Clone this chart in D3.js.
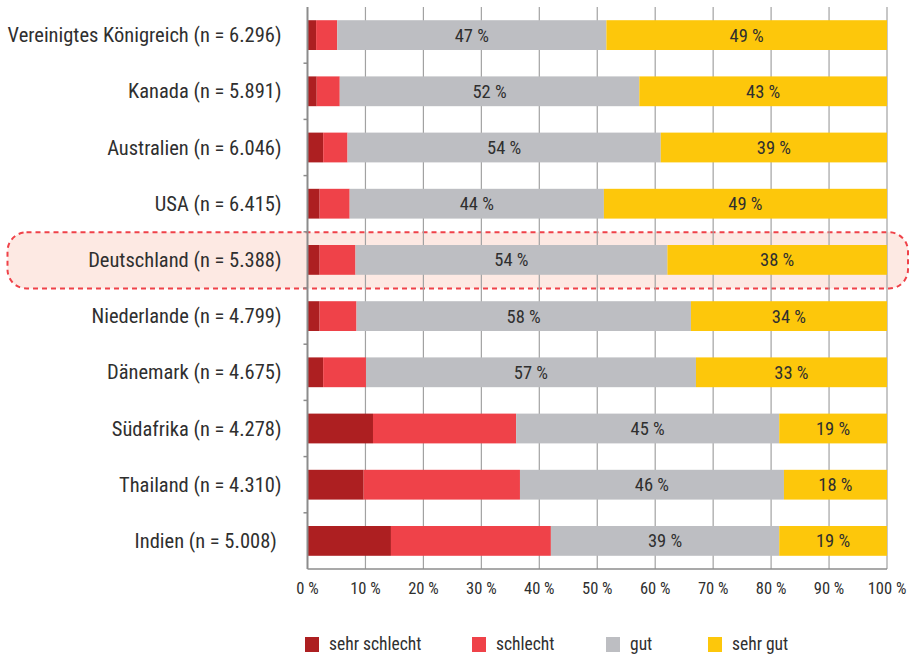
<!DOCTYPE html>
<html>
<head>
<meta charset="utf-8">
<script src="https://cdn.jsdelivr.net/npm/d3@7"></script>
<style>
  body { margin: 0; background: #fff; }
  text { font-family: "Roboto Condensed", "Liberation Sans Narrow", "DejaVu Sans Condensed", sans-serif; fill: #2f2f2f; }
</style>
</head>
<body>
<div id="chart"></div>
<script>
var svgWidth = 917;
var svgHeight = 655;

// categories (top to bottom)
var countries = [
    "Vereinigtes Königreich (n = 6.296)",
    "Kanada (n = 5.891)",
    "Australien (n = 6.046)",
    "USA (n = 6.415)",
    "Deutschland (n = 5.388)",
    "Niederlande (n = 4.799)",
    "Dänemark (n = 4.675)",
    "Südafrika (n = 4.278)",
    "Thailand (n = 4.310)",
    "Indien (n = 5.008)\u00a0"
];
var highlighted = "Deutschland (n = 5.388)";

// series values (%)
var sehrSchlecht = [1.5, 1.6, 2.7, 2.1, 2.1, 2.1, 2.7, 11.3, 9.7, 14.4];
var schlecht = [3.7, 4.0, 4.2, 5.2, 6.2, 6.4, 7.4, 24.7, 27.0, 27.6];
var gut = [47, 52, 54, 44, 54, 58, 57, 45.4, 45.6, 39.4];
var sehrGut = [49, 43, 39, 49, 38, 34, 33, 18.6, 17.8, 18.6];

var seriesNames = ["sehr schlecht", "schlecht", "gut", "sehr gut"];
var seriesColors = ["#ad1f21", "#ef4249", "#bdbec2", "#fdc70b"];
var labelledSeries = ["gut", "sehr gut"];

var xTicks = [0, 10, 20, 30, 40, 50, 60, 70, 80, 90, 100];

var margin = { top: 7, left: 307.5, right: 30, bottom: 86 };

var svg = d3.select("#chart")
    .append("svg")
    .attr("width", svgWidth)
    .attr("height", svgHeight);

// build rows for the stack
var rows = countries.map(function (c, i) {
    return {
        country: c,
        "sehr schlecht": sehrSchlecht[i],
        "schlecht": schlecht[i],
        "gut": gut[i],
        "sehr gut": sehrGut[i]
    };
});

var stacked = d3.stack()
    .keys(seriesNames)
    .offset(d3.stackOffsetExpand)(rows);

var x = d3.scaleLinear()
    .domain([0, 1])
    .range([margin.left, svgWidth - margin.right]);

var y = d3.scaleBand()
    .domain(countries)
    .range([margin.top, svgHeight - margin.bottom])
    .paddingInner(0.47)
    .paddingOuter(0.235);

var color = d3.scaleOrdinal().domain(seriesNames).range(seriesColors);

// highlight box behind Deutschland
var step = y.step();
var hy = y(highlighted) - y.paddingOuter() * step;
svg.append("rect")
    .attr("x", 7.5)
    .attr("y", hy + 0.5)
    .attr("width", 908 - 7.5)
    .attr("height", step)
    .attr("rx", 19)
    .attr("ry", 19)
    .attr("fill", "#fde9e3")
    .attr("stroke", "#ef4249")
    .attr("stroke-width", 2)
    .attr("stroke-dasharray", "5,4");

// vertical gridlines
svg.append("g")
    .selectAll("line")
    .data(xTicks.slice(1))
    .enter()
    .append("line")
    .attr("x1", d => x(d / 100))
    .attr("x2", d => x(d / 100))
    .attr("y1", margin.top)
    .attr("y2", svgHeight - margin.bottom)
    .attr("stroke", "#a2a2a2")
    .attr("stroke-width", 1.2);

// bars
var layers = svg.append("g")
    .selectAll("g")
    .data(stacked)
    .enter()
    .append("g")
    .attr("fill", d => color(d.key));

layers.selectAll("rect")
    .data(d => d)
    .enter()
    .append("rect")
    .attr("x", d => x(d[0]))
    .attr("width", d => x(d[1]) - x(d[0]))
    .attr("y", d => y(d.data.country))
    .attr("height", y.bandwidth());

// value labels on gut / sehr gut
stacked.filter(s => labelledSeries.indexOf(s.key) >= 0).forEach(function (s) {
    svg.append("g")
        .selectAll("text")
        .data(s)
        .enter()
        .append("text")
        .attr("x", d => (x(d[0]) + x(d[1])) / 2)
        .attr("y", d => y(d.data.country) + y.bandwidth() / 2)
        .attr("dy", "0.35em")
        .attr("text-anchor", "middle")
        .style("font-size", "18.5px")
        .text(d => Math.round(d.data[s.key]) + " %");
});

// y axis
var yAxis = svg.append("g")
    .attr("transform", `translate(${margin.left}, 0)`);

yAxis.append("line")
    .attr("y1", margin.top)
    .attr("y2", svgHeight - margin.bottom)
    .attr("stroke", "#8c8c8c")
    .attr("stroke-width", 2);

yAxis.selectAll(".bnd")
    .data(countries.slice(1))
    .enter()
    .append("line")
    .attr("x1", -4)
    .attr("x2", 0)
    .attr("y1", d => y(d) - y.paddingInner() * step / 2)
    .attr("y2", d => y(d) - y.paddingInner() * step / 2)
    .attr("stroke", "#8c8c8c")
    .attr("stroke-width", 1.5);

yAxis.selectAll(".lbl")
    .data(countries)
    .enter()
    .append("text")
    .attr("x", -26)
    .attr("y", d => y(d) + y.bandwidth() / 2)
    .attr("dy", "0.35em")
    .attr("text-anchor", "end")
    .style("font-size", "20.5px")
    .text(d => d);

// x axis
var xAxisY = svgHeight - margin.bottom;
var xAxis = svg.append("g");

xAxis.append("line")
    .attr("x1", margin.left)
    .attr("x2", svgWidth - margin.right)
    .attr("y1", xAxisY)
    .attr("y2", xAxisY)
    .attr("stroke", "#8c8c8c")
    .attr("stroke-width", 1.5);

xAxis.selectAll("text")
    .data(xTicks)
    .enter()
    .append("text")
    .attr("x", d => x(d / 100))
    .attr("y", xAxisY + 25)
    .attr("text-anchor", "middle")
    .style("font-size", "16.5px")
    .text(d => d + " %");

// legend
var legendX = [305, 472, 606, 708];
var legend = svg.append("g")
    .selectAll("g")
    .data(seriesNames)
    .enter()
    .append("g")
    .attr("transform", (d, i) => `translate(${legendX[i]}, 637)`);

legend.append("rect")
    .attr("width", 14)
    .attr("height", 15)
    .attr("fill", d => color(d));

legend.append("text")
    .attr("x", 24)
    .attr("y", 13)
    .style("font-size", "17.5px")
    .text(d => d);
</script>
</body>
</html>
